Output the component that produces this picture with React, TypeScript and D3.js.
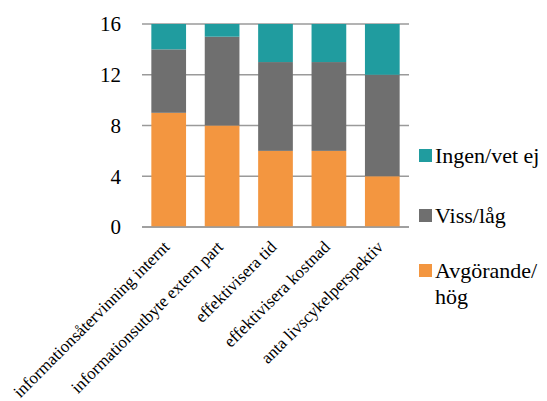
import React from "react";
import * as d3 from "d3";

const categories = [
  "informationsåtervinning internt",
  "informationsutbyte extern part",
  "effektivisera tid",
  "effektivisera kostnad",
  "anta livscykelperspektiv",
];
const seriesNames = ["Avgörande/hög", "Viss/låg", "Ingen/vet ej"];
const avgorande = [9, 8, 6, 6, 4];
const vissLag = [5, 7, 7, 7, 8];
const ingen = [2, 1, 3, 3, 4];
const yTicks = [0, 4, 8, 12, 16];
const colors = ["#F39640", "#6F6F6F", "#209C9F"];

const W = 547;
const H = 401;
const FONT = "'Liberation Serif', 'Times New Roman', serif";

export default function App() {
  const x = d3.scaleBand().domain(categories).range([142, 409]).paddingInner(0.35).paddingOuter(0.175);
  const y = d3.scaleLinear().domain([0, 16]).range([227, 24]);
  const rows = categories.map((c, i) => ({ cat: c, s0: avgorande[i], s1: vissLag[i], s2: ingen[i] }));
  const stack = d3.stack<any>().keys(["s0", "s1", "s2"])(rows);

  const legendY = [155, 215, 270];

  return (
    <svg width={W} height={H} style={{ position: "absolute", left: 0, top: 0 }}>
      <rect width={W} height={H} fill="#fff" />
      {yTicks.map((t) => (
        <g key={t}>
          <line x1={142} x2={409} y1={y(t)} y2={y(t)} stroke="#9a9a9a" strokeWidth={1.5} />
          <text x={121} y={y(t)} dy="0.35em" textAnchor="end" fontFamily={FONT} fontSize={21} fill="#000">
            {t}
          </text>
        </g>
      ))}
      {stack.map((layer, si) =>
        layer.map((d, i) => (
          <rect
            key={si + "-" + i}
            x={x(categories[i])}
            width={x.bandwidth()}
            y={y(d[1])}
            height={y(d[0]) - y(d[1])}
            fill={colors[si]}
          />
        ))
      )}
      <line x1={142} x2={409} y1={y(0)} y2={y(0)} stroke="#9a9a9a" strokeWidth={1.5} />
      {categories.map((c) => (
        <text
          key={c}
          transform={`translate(${(x(c) as number) + x.bandwidth() / 2 + 2},${248}) rotate(-45)`}
          textAnchor="end"
          fontFamily={FONT}
          fontSize={17}
          fill="#000"
        >
          {c}
        </text>
      ))}
      {[2, 1, 0].map((si, k) => (
        <g key={si}>
          <rect x={419} y={legendY[k] - 6} width={13} height={13} fill={colors[si]} />
          {si === 0 ? (
            <text x={435} y={legendY[k]} dy="0.35em" fontFamily={FONT} fontSize={22} fill="#000">
              <tspan x={435}>Avgörande/</tspan>
              <tspan x={435} dy="1.2em">hög</tspan>
            </text>
          ) : (
            <text x={435} y={legendY[k]} dy="0.35em" fontFamily={FONT} fontSize={22} fill="#000">
              {seriesNames[si]}
            </text>
          )}
        </g>
      ))}
    </svg>
  );
}
